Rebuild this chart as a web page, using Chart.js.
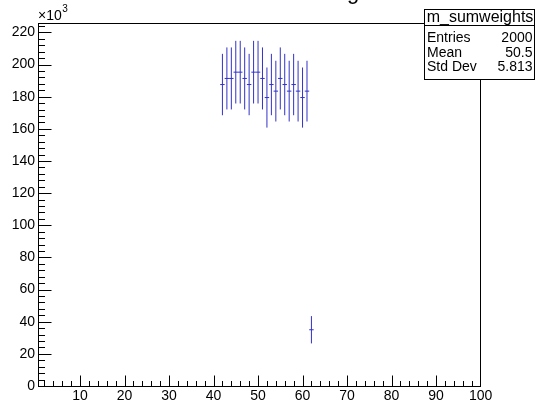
<!DOCTYPE html>
<html>
<head>
<meta charset="utf-8">
<script src="https://cdn.jsdelivr.net/npm/chart.js@4/dist/chart.umd.min.js"></script>
<style>
html,body{margin:0;padding:0;background:#fff;}
#wrap{width:535px;height:403px;}
</style>
</head>
<body>
<div id="wrap"><canvas id="c" width="535" height="403"></canvas></div>
<script>
// Bin centres (x) of the filled bins
const binCenters = [42,43,44,45,46,47,48,49,50,51,52,53,54,55,56,57,58,59,60,61,62];
// Bin contents (in units of 10^3)
const binValues = [187.6,191.4,191.4,195.3,195.3,191.4,187.6,195.3,195.3,191.4,179.5,187.6,183.5,191.4,187.6,183.5,187.6,183.5,179.5,183.5,35.0];
// Bin errors (in units of 10^3)
const binErrors = [19.1,19.3,19.3,19.5,19.5,19.3,19.1,19.5,19.5,19.3,18.7,19.1,18.9,19.3,19.1,18.9,19.1,18.9,18.7,18.9,8.5];
const yTickLabels = [0,20,40,60,80,100,120,140,160,180,200,220];
const xTickLabels = [10,20,30,40,50,60,70,80,90,100];
const statsTitle = 'm_sumweights';
const statsRows = [['Entries','2000'],['Mean','50.5'],['Std Dev','5.813']];
const histTitle = 'm_sumweights';

const BIN_W = 1;
const lineColor = 'rgb(50,50,200)';
const FONT = '"Liberation Sans", Arial, Helvetica, sans-serif';

const vertData = [];
const horzData = [];
binCenters.forEach((x, i) => {
  const v = binValues[i], e = binErrors[i];
  vertData.push({x: x, y: v - e}, {x: x, y: v + e}, {x: x, y: null});
  horzData.push({x: x - BIN_W/2, y: v}, {x: x + BIN_W/2, y: v}, {x: x, y: null});
});

const rootPlugin = {
  id: 'rootStyle',
  afterDraw(chart) {
    const ctx = chart.ctx;
    const a = chart.chartArea;
    const xs = chart.scales.x, ys = chart.scales.y;
    ctx.save();
    ctx.strokeStyle = '#000';
    ctx.lineWidth = 1;
    // frame
    ctx.strokeRect(Math.round(a.left) + 0.5, Math.round(a.top) + 0.5,
                   Math.round(a.right - a.left) - 1, Math.round(a.bottom - a.top));
    // y ticks
    ctx.beginPath();
    for (let v = 0; v <= ys.max + 1e-9; v += 4) {
      const py = Math.round(ys.getPixelForValue(v)) + 0.5;
      const len = (Math.abs(v % 20) < 1e-6) ? 13 : 6.5;
      ctx.moveTo(Math.round(a.left) + 0.5, py);
      ctx.lineTo(Math.round(a.left) + 0.5 + len, py);
    }
    // x ticks
    for (let v = 2; v < xs.max; v += 2) {
      const px = Math.min(Math.round(xs.getPixelForValue(v)), Math.round(a.right) - 1) + 0.5;
      const len = (Math.abs(v % 10) < 1e-6) ? 11 : 5.5;
      ctx.moveTo(px, Math.round(a.bottom) + 0.5);
      ctx.lineTo(px, Math.round(a.bottom) + 0.5 - len);
    }
    ctx.stroke();

    // x10^3 label
    ctx.fillStyle = '#000';
    ctx.textBaseline = 'alphabetic';
    ctx.textAlign = 'left';
    ctx.font = '14px ' + FONT;
    ctx.fillText('\u00d710', 38, 20);
    const w10 = ctx.measureText('\u00d710').width;
    ctx.font = '10px ' + FONT;
    ctx.fillText('3', 38 + w10 + 0.5, 12);

    // histogram title, lying mostly above the canvas (only a descender shows)
    ctx.save();
    ctx.beginPath();
    ctx.rect(344, 0, 20, 8);
    ctx.clip();
    ctx.font = '22px ' + FONT;
    const pre = ctx.measureText(histTitle.slice(0, histTitle.indexOf('g'))).width;
    ctx.fillText(histTitle, 347 - pre, -1);
    ctx.restore();

    // stats box
    const bx = 424.5, by = 9.5, bw = 110, bh = 70;
    ctx.fillStyle = '#fff';
    ctx.fillRect(bx, by, bw, bh);
    ctx.strokeStyle = '#000';
    ctx.strokeRect(bx, by, bw, bh);
    ctx.beginPath();
    ctx.moveTo(bx, 25.5);
    ctx.lineTo(bx + bw, 25.5);
    ctx.stroke();
    ctx.fillStyle = '#000';
    ctx.font = '16px ' + FONT;
    ctx.textAlign = 'center';
    ctx.textBaseline = 'middle';
    ctx.fillText(statsTitle, bx + bw/2 + 0.5, 17.5);
    ctx.font = '14px ' + FONT;
    const rowY = [38.5, 53, 67.5];
    statsRows.forEach((r, i) => {
      ctx.textAlign = 'left';
      ctx.fillText(r[0], 427, rowY[i]);
      ctx.textAlign = 'right';
      ctx.fillText(r[1], 532.5, rowY[i]);
    });
    ctx.restore();
  }
};

new Chart(document.getElementById('c'), {
  type: 'scatter',
  data: {
    datasets: [
      {data: vertData, showLine: true, spanGaps: false, borderColor: lineColor, borderWidth: 1, pointRadius: 0, pointHoverRadius: 0, fill: false},
      {data: horzData, showLine: true, spanGaps: false, borderColor: lineColor, borderWidth: 1, pointRadius: 0, pointHoverRadius: 0, fill: false}
    ]
  },
  options: {
    responsive: false,
    animation: false,
    events: [],
    layout: {padding: {top: 23, right: 54, left: 0, bottom: 0}},
    plugins: {legend: {display: false}, tooltip: {enabled: false}, title: {display: false}},
    scales: {
      x: {
        type: 'linear',
        min: 0.56, max: 100.1,
        afterFit(s) { s.height = 17; },
        grid: {display: false, drawTicks: false},
        border: {display: false},
        ticks: {
          stepSize: 10, includeBounds: false, autoSkip: false, maxRotation: 0, padding: 2,
          color: '#000', font: {family: FONT, size: 14},
          callback: (v) => xTickLabels.includes(v) ? String(v) : ''
        }
      },
      y: {
        type: 'linear',
        min: 0, max: 225.9,
        afterFit(s) { s.width = 38; },
        grid: {display: false, drawTicks: false},
        border: {display: false},
        ticks: {
          stepSize: 20, includeBounds: false, autoSkip: false, padding: 3,
          color: '#000', font: {family: FONT, size: 14},
          callback: (v) => yTickLabels.includes(v) ? String(v) : ''
        }
      }
    }
  },
  plugins: [rootPlugin]
});
</script>
</body>
</html>
